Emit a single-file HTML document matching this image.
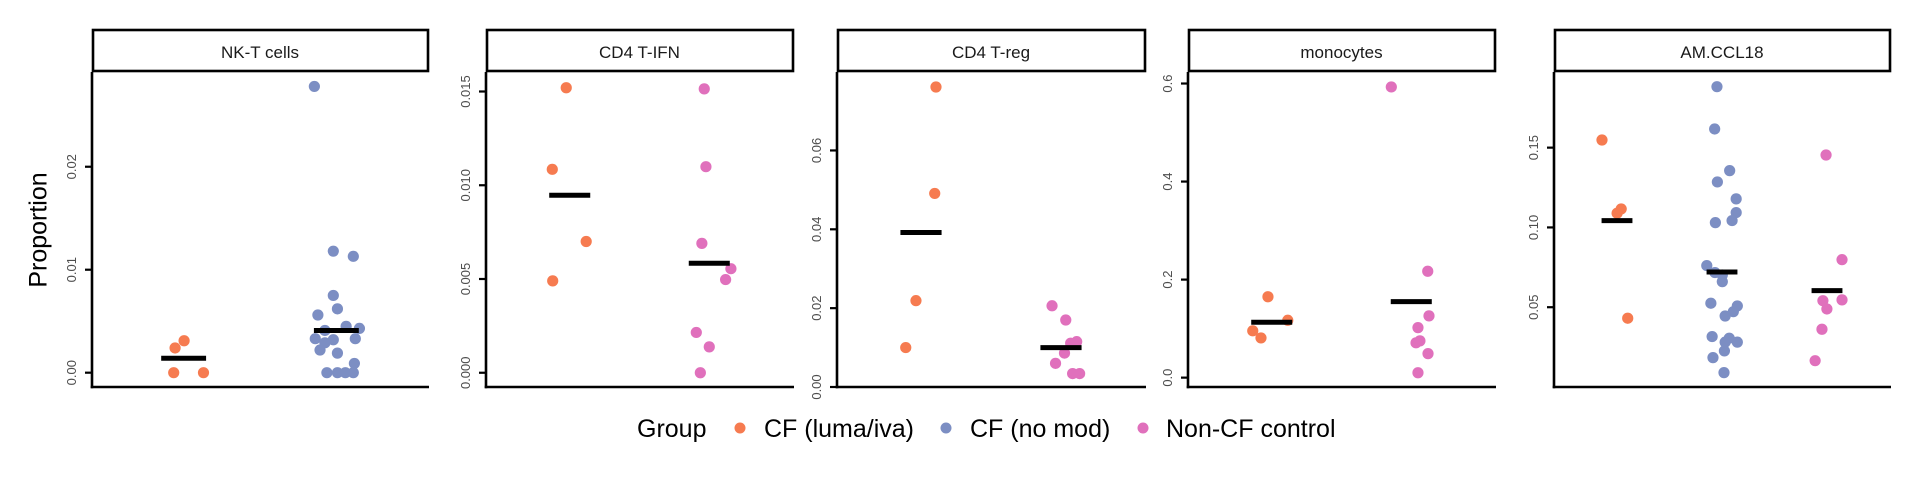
<!DOCTYPE html>
<html><head><meta charset="utf-8"><style>
html,body{margin:0;padding:0;background:#fff;}
svg{display:block;font-family:"Liberation Sans",Arial,sans-serif;}
</style></head><body>
<svg id="chart" width="1920" height="480" viewBox="0 0 1920 480">
<text x="40" y="230" transform="rotate(-90 40 230)" text-anchor="middle" dominant-baseline="middle" font-size="25" fill="#000">Proportion</text>
<g>
<text x="637" y="437" font-size="25" fill="#000">Group</text>
<circle cx="740" cy="428" r="5.5" fill="#f67b50"></circle>
<text x="764" y="437" font-size="25" fill="#000">CF (luma/iva)</text>
<circle cx="946" cy="428" r="5.5" fill="#7c8ec3"></circle>
<text x="970" y="437" font-size="25" fill="#000">CF (no mod)</text>
<circle cx="1143" cy="428" r="5.5" fill="#e070bc"></circle>
<text x="1166" y="437" font-size="25" fill="#000">Non-CF control</text>
</g>
</svg>
<script>
// ---- data ----
const panelTitles = ["NK-T cells","CD4 T-IFN","CD4 T-reg","monocytes","AM.CCL18"];
const groupNames = ["CF (luma/iva)","CF (no mod)","Non-CF control"];
const groupColors = ["#f67b50","#7c8ec3","#e070bc"];
const tickValues = [[0,0.01,0.02],[0,0.005,0.01,0.015],[0,0.02,0.04,0.06],[0,0.2,0.4,0.6],[0.05,0.1,0.15]];
const tickLabels = [["0.00","0.01","0.02"],["0.000","0.005","0.010","0.015"],["0.00","0.02","0.04","0.06"],["0.0","0.2","0.4","0.6"],["0.05","0.10","0.15"]];
// panel groups present (index into groupNames)
const panelGroups = [[0,1],[0,2],[0,2],[0,2],[0,1,2]];
// values per panel per group
const nktLuma = [0,0,0.0024,0.0031];
const nktNoMod = [0.0278,0.0118,0.0113,0.0075,0.0062,0.0056,0.0041,0.0045,0.0043,0.0033,0.0032,0.0033,0.0029,0.0022,0.0019,0.0009,0,0,0,0];
const ifnLuma = [0.0152,0.01085,0.0070,0.0049];
const ifnCtrl = [0.01514,0.01099,0.0069,0.00555,0.00497,0.00215,0.00138,0];
const tregLuma = [0.0761,0.0491,0.0219,0.0100];
const tregCtrl = [0.0206,0.0170,0.0111,0.0115,0.0086,0.0060,0.0034,0.0034];
const monoLuma = [0.165,0.0955,0.081,0.117];
const monoCtrl = [0.593,0.217,0.126,0.102,0.075,0.071,0.049,0.010];
const amLuma = [0.1548,0.1116,0.1089,0.0431];
const amNoMod = [0.1882,0.1617,0.1356,0.1285,0.1179,0.1093,0.1043,0.1030,0.0761,0.0717,0.0702,0.0660,0.0525,0.0508,0.0472,0.0445,0.0316,0.0306,0.0281,0.0281,0.0226,0.0184,0.0090];
const amCtrl = [0.1454,0.0798,0.0541,0.0546,0.0489,0.0362,0.0165];
const medians = [[0.0014,0.0041],[0.00947,0.00584],[0.0392,0.0100],[0.113,0.155],[0.1043,0.0721,0.0604]];
// horizontal jitter (category units)
const nktLumaJ = [-0.065,0.13,-0.056,0.003];
const nktNoModJ = [-0.144,-0.02,0.111,-0.02,0.007,-0.121,-0.075,0.064,0.151,-0.138,-0.02,0.124,-0.075,-0.107,0.007,0.118,-0.062,0.007,0.059,0.111];
const ifnLumaJ = [-0.025,-0.125,0.118,-0.122];
const ifnCtrlJ = [-0.036,-0.024,-0.053,0.155,0.117,-0.093,0,-0.064];
const tregLumaJ = [0.107,0.098,-0.036,-0.109];
const tregCtrlJ = [-0.064,0.034,0.069,0.112,0.025,-0.039,0.083,0.133];
const monoLumaJ = [-0.027,-0.136,-0.077,0.115];
const monoCtrlJ = [-0.143,0.118,0.127,0.048,0.062,0.034,0.12,0.048];
const amLumaJ = [-0.143,0.04,0.001,0.102];
const amNoModJ = [-0.048,-0.07,0.073,-0.044,0.135,0.135,0.096,-0.063,-0.145,-0.067,0.003,0.003,-0.106,0.146,0.108,0.03,-0.094,0.069,0.146,0.03,0.023,-0.086,0.019];
const amCtrlJ = [-0.009,0.143,-0.039,0.143,-0.001,-0.048,-0.113];
const panelValues = [[nktLuma,nktNoMod],[ifnLuma,ifnCtrl],[tregLuma,tregCtrl],[monoLuma,monoCtrl],[amLuma,amNoMod,amCtrl]];
const panelJitter = [[nktLumaJ,nktNoModJ],[ifnLumaJ,ifnCtrlJ],[tregLumaJ,tregCtrlJ],[monoLumaJ,monoCtrlJ],[amLumaJ,amNoModJ,amCtrlJ]];
const panelDomains = [[-0.00139,0.0292],[-0.00076,0.01604],[0,0.0799],[-0.0191,0.6235],[0,0.1974]];

// ---- layout ----
const layout = [{l:92,r:428},{l:486,r:793},{l:837,r:1145},{l:1188,r:1495},{l:1554,r:1890}];
const plotTop = 72, plotBottom = 387;
const NS = "http://www.w3.org/2000/svg";
const svg = document.getElementById("chart");
function mk(tag, attrs, parent){
  const e = document.createElementNS(NS, tag);
  for (const k in attrs) e.setAttribute(k, attrs[k]);
  (parent||svg).appendChild(e);
  return e;
}
panelTitles.forEach((title, p) => {
  const L = layout[p];
  const dom = panelDomains[p];
  const yS = v => plotBottom - (v - dom[0]) / (dom[1] - dom[0]) * (plotBottom - plotTop);
  const n = panelGroups[p].length;
  const unit = (L.r - L.l) / (n + 0.2);
  const xS = i => L.l + unit * (0.6 + i);
  const g = mk("g", {});
  
  
  // strip
  const strip = mk("rect", {x:L.l+1, y:30, width:L.r-L.l-1, height:41, fill:"#fff", stroke:"#000", "stroke-width":2.6}, g);
  
  
  const st = mk("text", {x:(L.l+L.r)/2, y:58, "text-anchor":"middle", "font-size":17, fill:"#1a1a1a"}, g);
  st.textContent = title;
  
  
  // axes
  const ya = mk("line", {x1:L.l, y1:plotTop, x2:L.l, y2:plotBottom+1.3, stroke:"#000", "stroke-width":2.6}, g);
  
  
  const xa = mk("line", {x1:L.l-1.3, y1:plotBottom, x2:L.r+1, y2:plotBottom, stroke:"#000", "stroke-width":2.6}, g);
  
  
  tickValues[p].forEach((tv, t) => {
    const y = yS(tv);
    const tk = mk("line", {x1:L.l-7, y1:y, x2:L.l, y2:y, stroke:"#000", "stroke-width":2.2}, g);
    
    
    const tx = L.l - 16;
    const lb = mk("text", {x:tx, y:y, transform:"rotate(-90 "+tx+" "+y+")", "text-anchor":"middle", "font-size":13, fill:"#4d4d4d"}, g);
    lb.textContent = tickLabels[p][t];
    
    
  });
  panelGroups[p].forEach((gi, i) => {
    const vals = panelValues[p][i], jit = panelJitter[p][i];
    vals.forEach((v, k) => {
      const c = mk("circle", {cx: xS(i + jit[k]), cy: yS(v), r:5.6, fill: groupColors[gi]}, g);
      
      
    });
    const m = medians[p][i];
    const ml = mk("line", {x1:xS(i-0.147), x2:xS(i+0.147), y1:yS(m), y2:yS(m), stroke:"#000", "stroke-width":5}, g);
    
    
  });
});
</script>
</body></html>
